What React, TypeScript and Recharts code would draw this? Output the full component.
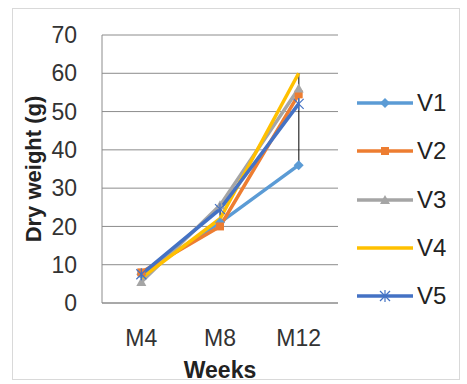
import React from "react";
import {
  ComposedChart,
  Line,
  Bar,
  XAxis,
  YAxis,
  CartesianGrid,
} from "recharts";

const weeks = ["M4", "M8", "M12"];
const v1 = [7.5, 21, 36];
const v2 = [8, 20, 54.5];
const v3 = [5.5, 25.5, 56];
const v4 = [6.5, 22, 60];
const v5 = [7.5, 24.5, 52];
const yTicks = [0, 10, 20, 30, 40, 50, 60, 70];

const series = [
  { key: "V1", values: v1, color: "#5B9BD5", marker: "diamond" },
  { key: "V2", values: v2, color: "#ED7D31", marker: "square" },
  { key: "V3", values: v3, color: "#A5A5A5", marker: "triangle" },
  { key: "V4", values: v4, color: "#FFC000", marker: "none" },
  { key: "V5", values: v5, color: "#4472C4", marker: "star" },
];

const data = weeks.map((w, i) => {
  const vals = series.map((s) => s.values[i]);
  const row: any = { week: w, hl: [Math.min(...vals), Math.max(...vals)] };
  series.forEach((s) => (row[s.key] = s.values[i]));
  return row;
});

const FONT = "'Liberation Sans', Arial, sans-serif";

function Marker({ type, cx, cy, color }: any) {
  if (cx == null || cy == null) return null;
  if (type === "diamond")
    return <path d={`M${cx},${cy - 5}L${cx + 5},${cy}L${cx},${cy + 5}L${cx - 5},${cy}Z`} fill={color} />;
  if (type === "square")
    return <rect x={cx - 4} y={cy - 4} width={8} height={8} fill={color} />;
  if (type === "triangle")
    return <path d={`M${cx},${cy - 5}L${cx + 5},${cy + 4}L${cx - 5},${cy + 4}Z`} fill={color} />;
  if (type === "star")
    return (
      <g stroke={color} strokeWidth={1.2}>
        <line x1={cx - 5} y1={cy - 5} x2={cx + 5} y2={cy + 5} />
        <line x1={cx - 5} y1={cy + 5} x2={cx + 5} y2={cy - 5} />
        <line x1={cx} y1={cy - 6} x2={cx} y2={cy + 6} />
      </g>
    );
  return null;
}

export default function App() {
  return (
    <div style={{ position: "fixed", left: 0, top: 0, width: 467, height: 384, background: "#fff" }}>
      <div
        style={{
          position: "absolute",
          left: 12,
          top: 8,
          width: 448,
          height: 372,
          border: "1px solid #d9d9d9",
          boxSizing: "border-box",
        }}
      />
      <div style={{ position: "absolute", left: 0, top: 0 }}>
        <ComposedChart
          width={467}
          height={384}
          data={data}
          margin={{ top: 35, right: 129, bottom: 0, left: 0 }}
        >
          <CartesianGrid vertical={false} stroke="#8c8c8c" strokeWidth={1} />
          <XAxis
            dataKey="week"
            height={81}
            axisLine={{ stroke: "#8c8c8c" }}
            tickLine={false}
            tickSize={0}
            tickMargin={27}
            tick={{ fill: "#333", fontSize: 23, fontFamily: FONT }}
            label={{
              content: ({ viewBox }: any) => (
                <text
                  x={viewBox.x + viewBox.width / 2}
                  y={viewBox.y + 67}
                  textAnchor="middle"
                  dominantBaseline="central"
                  fontSize={23}
                  fontWeight="bold"
                  fontFamily={FONT}
                  fill="#222"
                >
                  Weeks
                </text>
              ),
            }}
          />
          <YAxis
            width={102}
            domain={[0, 70]}
            ticks={yTicks}
            axisLine={{ stroke: "#8c8c8c" }}
            tickLine={false}
            tickSize={0}
            tickMargin={25}
            tick={{ fill: "#333", fontSize: 23, fontFamily: FONT }}
            label={{
              content: ({ viewBox }: any) => {
                const x = 33;
                const y = viewBox.y + viewBox.height / 2;
                return (
                  <text
                    x={x}
                    y={y}
                    transform={`rotate(-90 ${x} ${y})`}
                    textAnchor="middle"
                    dominantBaseline="central"
                    fontSize={22}
                    fontWeight="bold"
                    fontFamily={FONT}
                    fill="#222"
                  >
                    Dry weight  (g)
                  </text>
                );
              },
            }}
          />
          <Bar dataKey="hl" barSize={1} fill="#000" isAnimationActive={false} />
          {series.map((s) => (
            <Line
              key={s.key}
              dataKey={s.key}
              stroke={s.color}
              strokeWidth={3.5}
              isAnimationActive={false}
              dot={(p: any) => <Marker key={`${s.key}-${p.index}`} type={s.marker} cx={p.cx} cy={p.cy} color={s.color} />}
              activeDot={false}
            />
          ))}
        </ComposedChart>
      </div>
      <div style={{ position: "absolute", left: 357, top: 79, fontFamily: FONT }}>
        {series.map((s) => (
          <div key={s.key} style={{ display: "flex", alignItems: "center", height: 48.25 }}>
            <svg width={56} height={16}>
              <line x1={0} y1={8} x2={56} y2={8} stroke={s.color} strokeWidth={3.5} />
              <Marker type={s.marker} cx={28} cy={8} color={s.color} />
            </svg>
            <span style={{ fontSize: 24, color: "#222", marginLeft: 4 }}>{s.key}</span>
          </div>
        ))}
      </div>
    </div>
  );
}
